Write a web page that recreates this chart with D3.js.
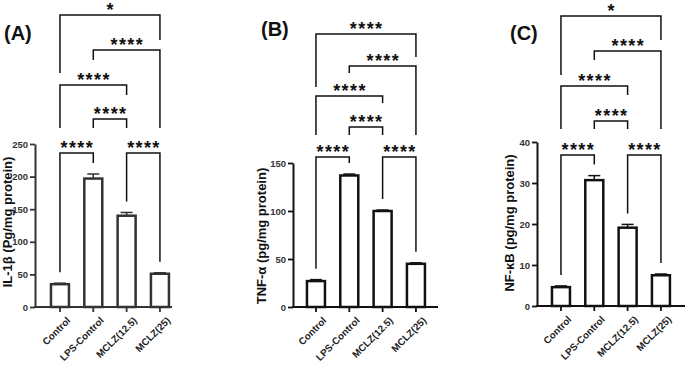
<!DOCTYPE html>
<meta charset="utf-8">
<script src="https://d3js.org/d3.v7.min.js"></script>
<html><head>
<style>
  body { margin: 0; background: #fff; font-family: Arial, "Liberation Sans", Helvetica, sans-serif; }
  svg text { font-family: Arial, "Liberation Sans", Helvetica, sans-serif; font-weight: bold; }
</style>
</head>
<body>
<div id="viz"></div>
<script>

// ---- data ----
const groups = ["Control", "LPS-Control", "MCLZ(12.5)", "MCLZ(25)"];

const il1bMean = [35, 197, 140, 51];
const il1bErr  = [1.5, 7, 5, 1.5];
const tnfMean  = [27, 137, 100, 45];
const tnfErr   = [1.5, 1.5, 1, 1];
const nfkbMean = [4.6, 30.7, 19.1, 7.5];
const nfkbErr  = [0.3, 1.1, 0.8, 0.3];

const ticksA = [0, 50, 100, 150, 200, 250];
const ticksB = [0, 50, 100, 150];
const ticksC = [0, 10, 20, 30, 40];

// pairs compared (group index), from top bracket to bottom ones
const comparisons = [[0, 3], [1, 3], [0, 2], [1, 2], [0, 1], [2, 3]];
const sigA = ["*", "****", "****", "****", "****", "****"];
const sigB = ["****", "****", "****", "****", "****", "****"];
const sigC = ["*", "****", "****", "****", "****", "****"];

// ---- layout ----
const W = 685, H = 365;
const svg = d3.select("#viz").append("svg")
  .attr("width", W).attr("height", H);

const panels = [
  { tag: "(A)", tagX: 4, tagY: 40, title: "IL-1\u03b2 (Pg/mg protein)", titleX: 12, titleY: 222,
    mean: il1bMean, err: il1bErr, ticks: ticksA, max: 250,
    ax: 35, xStart: 43.3, xEnd: 172, y0: 307, yTop: 144, color: "#333",
    lines: [15, 50, 85, 119, 153],
    legs: [[73, 40], [60, 128], [128, 95], [128, 128]], sig: sigA },
  { tag: "(B)", tagX: 261, tagY: 36, title: "TNF-\u03b1 (pg/mg  protein)", titleX: 266, titleY: 236,
    mean: tnfMean, err: tnfErr, ticks: ticksB, max: 150,
    ax: 293, xStart: 299.3, xEnd: 438, y0: 307, yTop: 163, color: "#111",
    lines: [34, 66, 96, 127, 157],
    legs: [[87, 57], [73, 135], [135, 103], [135, 135]], sig: sigB },
  { tag: "(C)", tagX: 510, tagY: 40, title: "NF-\u03baB (pg/mg protein)", titleX: 514, titleY: 223,
    mean: nfkbMean, err: nfkbErr, ticks: ticksC, max: 40,
    ax: 537, xStart: 544.3, xEnd: 690, y0: 306, yTop: 142, color: "#111",
    lines: [16, 51, 86, 121, 155],
    legs: [[75, 40], [60, 129], [129, 95], [129, 129]], sig: sigC }
];

panels.forEach(function(p) {
  const g = svg.append("g");

  const x = d3.scaleBand()
    .domain(groups)
    .range([p.xStart, p.xStart + 133.3])
    .paddingInner(0.4)
    .paddingOuter(0.2);
  const cx = i => x(groups[i]) + x.bandwidth() / 2;

  const y = d3.scaleLinear()
    .domain([0, p.max])
    .range([p.y0, p.yTop]);

  // y axis
  const yAxis = g.append("g")
    .attr("transform", `translate(${p.ax},0)`)
    .call(d3.axisLeft(y).tickValues(p.ticks).tickSize(5).tickSizeOuter(0).tickPadding(2));
  yAxis.select(".domain").attr("stroke", p.color).attr("stroke-width", 2);
  yAxis.selectAll(".tick line").attr("stroke", p.color).attr("stroke-width", 1.8);
  yAxis.selectAll(".tick text").attr("fill", "#333").style("font-size", "9.5px");

  // x axis
  g.append("line")
    .attr("x1", p.ax - 1).attr("x2", p.xEnd)
    .attr("y1", p.y0).attr("y2", p.y0)
    .attr("stroke", p.color).attr("stroke-width", 2);
  const xAxis = g.append("g")
    .attr("transform", `translate(0,${p.y0})`)
    .call(d3.axisBottom(x).tickSize(5).tickSizeOuter(0));
  xAxis.select(".domain").remove();
  xAxis.selectAll(".tick line").attr("stroke", p.color).attr("stroke-width", 1.8);
  xAxis.selectAll(".tick text")
    .attr("fill", "#222")
    .style("font-size", "9.8px")
    .attr("text-anchor", "end")
    .attr("dy", "0.35em")
    .attr("transform", "translate(3,6) rotate(-45)");

  // bars
  g.selectAll("rect.bar")
    .data(p.mean)
    .join("rect")
    .attr("class", "bar")
    .attr("x", (d, i) => x(groups[i]) + 1)
    .attr("width", x.bandwidth() - 2)
    .attr("y", d => y(d))
    .attr("height", d => p.y0 - y(d))
    .attr("fill", "#fff")
    .attr("stroke", p.color)
    .attr("stroke-width", 2.5);

  // error bars (upper only)
  p.mean.forEach(function(m, i) {
    const top = y(m + p.err[i]);
    g.append("line")
      .attr("x1", cx(i)).attr("x2", cx(i))
      .attr("y1", y(m)).attr("y2", top)
      .attr("stroke", p.color).attr("stroke-width", 1.5);
    g.append("line")
      .attr("x1", cx(i) - 6).attr("x2", cx(i) + 6)
      .attr("y1", top).attr("y2", top)
      .attr("stroke", p.color).attr("stroke-width", 1.5);
  });

  // significance brackets
  comparisons.forEach(function(c, k) {
    const a = c[0], b = c[1];
    let ly, l1, l2;
    if (k < 4) {
      ly = p.lines[k];
      l1 = p.legs[k][0];
      l2 = p.legs[k][1];
    } else {
      ly = p.lines[4];
      l1 = y(p.mean[a] + p.err[a]) - 11;
      l2 = y(p.mean[b] + p.err[b]) - 11;
    }
    g.append("path")
      .attr("d", `M${cx(a)},${l1}V${ly}H${cx(b)}V${l2}`)
      .attr("fill", "none")
      .attr("stroke", "#111")
      .attr("stroke-width", 1.5);
    g.append("text")
      .attr("x", (cx(a) + cx(b)) / 2 + 0.7)
      .attr("y", ly + 0.5)
      .attr("text-anchor", "middle")
      .style("font-size", "18px")
      .style("letter-spacing", "1.4px")
      .attr("fill", "#111")
      .text(p.sig[k]);
  });

  // panel label
  g.append("text")
    .attr("x", p.tagX).attr("y", p.tagY)
    .style("font-size", "20px")
    .attr("fill", "#111")
    .text(p.tag);

  // y title
  g.append("text")
    .attr("transform", `translate(${p.titleX},${p.titleY}) rotate(-90)`)
    .attr("text-anchor", "middle")
    .style("font-size", "13px")
    .attr("fill", "#111")
    .text(p.title);
});

</script>
</body></html>
